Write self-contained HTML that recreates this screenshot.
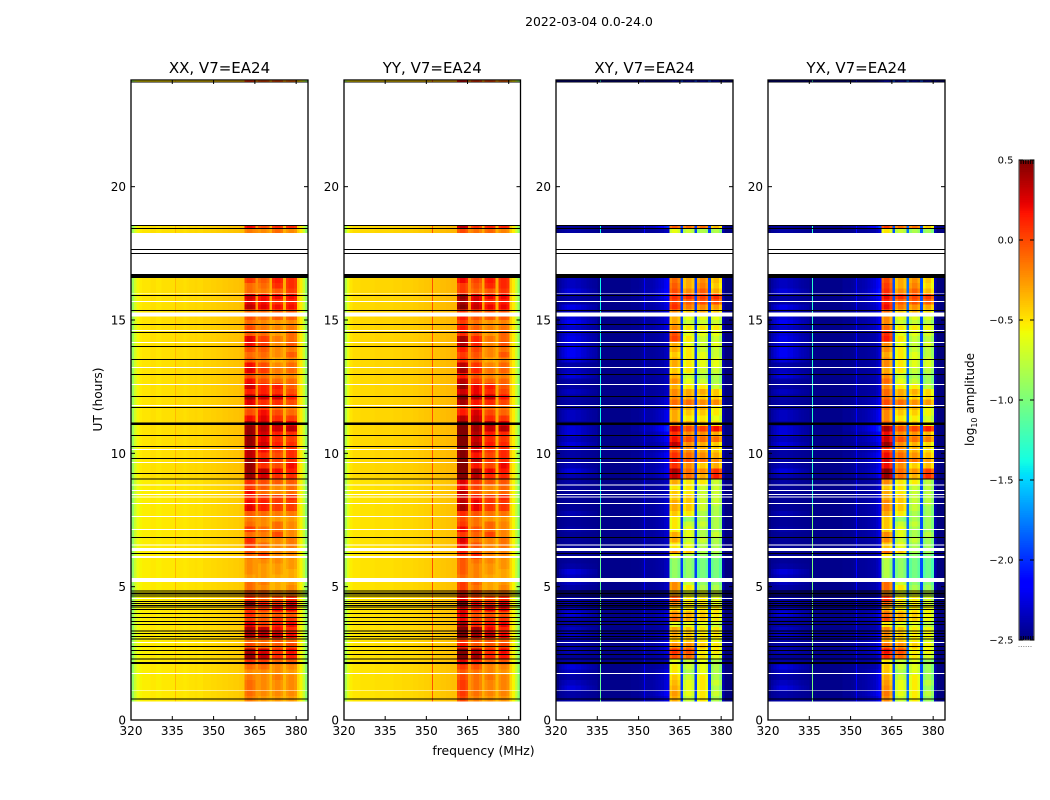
<!DOCTYPE html>
<html lang="en">
<head>
<meta charset="utf-8">
<title>2022-03-04 amplitude waterfall</title>
<style>
html,body{margin:0;padding:0;background:#fff;}
svg{display:block;font-family:"DejaVu Sans","Liberation Sans",sans-serif;fill:#000;}
</style>
</head>
<body>
<svg id="figure" xmlns="http://www.w3.org/2000/svg" width="1050" height="800" viewBox="0 0 1050 800">
<text x="589" y="26" font-size="12.4" text-anchor="middle">2022-03-04 0.0-24.0</text>
<text x="483.5" y="755" font-size="12.4" text-anchor="middle">frequency (MHz)</text>
<text transform="translate(102,399.5) rotate(-90)" font-size="12.2" text-anchor="middle">UT (hours)</text>
<text transform="translate(974,399.5) rotate(-90)" font-size="12" text-anchor="middle">log<tspan font-size="8" dy="3">10</tspan><tspan dy="-3"> amplitude</tspan></text>
<g id="panels"></g>
<g id="colorbar"></g>
</svg>
<script>
// ---------- categories and tick labels ----------
const panelTitles = ['XX, V7=EA24', 'YY, V7=EA24', 'XY, V7=EA24', 'YX, V7=EA24'];
const freqTicks = [320, 335, 350, 365, 380];
const hourTicks = [0, 5, 10, 15, 20];
const colorbarTicks = ['0.5', '0.0', '\u22120.5', '\u22121.0', '\u22121.5', '\u22122.0', '\u22122.5'];
const colorbarValues = [0.5, 0, -0.5, -1, -1.5, -2, -2.5];

// ---------- channel category: -1 none, 0 left patch, 1 shoulder, 2-5 sub-bands ----------
const channelGroup = [
 -1,0,0,0,0,0,0,0,0,0,0,0,0,0,0,-1,-1,-1,-1,-1,-1,-1,-1,-1,-1,-1,-1,
 1,1,1,1,1,1,1,1,1,1,1,1,1,1,
 2,2,2,2,-1,3,3,3,3,-1,4,4,4,4,-1,5,5,5,5,-1,-1,-1,-1];
const crossSpread = [
 0,.25,.45,.6,.7,.7,.7,.6,.6,.5,.45,.35,.3,.25,.2,0,0,0,0,0,0,0,0,0,0,0,0,
 .1,.1,.1,.15,.15,.2,.2,.25,.3,.4,.5,.6,.7,.8,
 1,1,1,1,0,1,1,1,1,0,1,1,1,1,0,1,1,1,1,0,0,0,0];

// ---------- per-channel log10 amplitude (one per MHz channel) ----------
const xxSpectrum = [
 -.88,-.68,-.56,-.52,-.5,-.5,-.5,-.48,-.48,-.5,
 -.5,-.48,-.48,-.48,-.48,-.48,-.47,-.47,-.47,-.48,
 -.47,-.46,-.46,-.45,-.46,-.46,-.44,-.44,-.44,-.43,
 -.43,-.42,-.42,-.41,-.41,-.4,-.4,-.39,-.39,-.38,-.37,
 -.05,0,0,-.05,-.22, -.05,0,0,-.05,-.32, -.05,0,0,-.05,-.32, -.05,0,0,-.05,
 -.42,-.52,-.7,-.92];
const yySpectrum = [
 -.8,-.6,-.5,-.47,-.47,-.47,-.46,-.46,-.46,-.46,
 -.46,-.45,-.45,-.45,-.45,-.45,-.45,-.45,-.44,-.44,
 -.44,-.43,-.43,-.43,-.43,-.42,-.42,-.41,-.41,-.4,
 -.4,-.39,-.39,-.38,-.38,-.37,-.37,-.36,-.36,-.35,-.35,
 -.03,.04,.04,-.03,-.22, -.05,.02,.02,-.05,-.3, -.05,0,0,-.05,-.32, -.05,0,0,-.05,
 -.42,-.52,-.7,-.92];
const xySpectrum = [
 -2.5,-2.47,-2.47,-2.47,-2.47,-2.47,-2.47,-2.47,-2.47,-2.47,
 -2.47,-2.47,-2.47,-2.47,-2.47,-2.47,-2.47,-2.47,-2.47,-2.47,
 -2.47,-2.47,-2.47,-2.47,-2.47,-2.47,-2.47,-2.47,-2.47,-2.47,
 -2.47,-2.45,-2.45,-2.45,-2.45,-2.45,-2.45,-2.45,-2.45,-2.42,-2.4,
 -.1,0,0,-.1,-1.95, -.1,0,0,-.1,-1.95, -.1,0,0,-.1,-1.95, -.1,0,0,-.15,
 -2.38,-2.5,-2.5,-2.5];
const yxSpectrum = [
 -2.5,-2.47,-2.47,-2.47,-2.47,-2.47,-2.47,-2.47,-2.47,-2.47,
 -2.47,-2.47,-2.47,-2.47,-2.47,-2.47,-2.47,-2.47,-2.47,-2.47,
 -2.47,-2.47,-2.47,-2.47,-2.47,-2.47,-2.47,-2.47,-2.47,-2.47,
 -2.47,-2.45,-2.45,-2.45,-2.45,-2.45,-2.45,-2.45,-2.45,-2.42,-2.35,
 -.05,.05,.05,-.1,-1.9, -.1,0,0,-.1,-1.8, -.1,0,0,-.1,-1.9, -.1,0,0,-.15,
 -2.38,-2.5,-2.5,-2.5];

// ---------- narrow spectral tones per panel: frequency (MHz) and log10 amplitude ----------
const xxTones = [[336, -.36]];
const yyTones = [[352.2, -.02]];
const xyTones = [[336.3, -1.4], [352, -2.15]];
const yxTones = [[336.3, -1.3], [352, -2.15]];
const crossToneLowHourLift = 0.3;

// ---------- sub-band level of each time row, top (16.6 h) to bottom (0.7 h) ----------
const parallelRows = [
 [.05,-.05,.15,.1],[-.1,-.1,.1,.1],[-.1,-.15,-.05,.05],[.3,.2,.2,.2],[.25,.2,.1,.15],[.35,.25,.2,.2],
 [-.1,-.1,-.05,-.05],[0,-.1,-.05,-.05],[-.1,-.2,-.25,-.2],[0,-.15,-.2,-.15],[-.05,-.1,-.25,-.1],[.25,.05,-.15,-.1],
 [.2,.05,-.2,-.05],[0,-.05,-.2,-.15],[-.1,-.1,-.2,-.05],[-.05,-.15,-.3,-.2],[.2,0,-.2,-.1],[.25,.05,-.15,-.1],
 [0,-.1,-.2,-.2],[.2,0,-.1,-.1],[.3,.15,.15,-.05],[.15,.15,.1,0],[.4,.3,.3,.15],[.25,.1,.1,0],
 [-.05,.05,-.1,-.15],[0,.2,0,-.1],[.2,.25,.1,.05],[.4,.35,.35,.25],[.45,.35,.3,.35],[.45,.3,.15,.1],
 [.45,.25,.1,.05],[.45,.3,.15,.1],[.35,.2,.05,.1],[.35,.1,0,.1],[.45,.3,.05,.1],[.45,.1,0,.2],
 [.45,.35,.2,.15],[.45,.3,.1,.1],[.1,0,-.05,-.05],[.05,-.05,-.2,-.1],[.2,-.1,-.2,-.1],
 [.15,.1,.05,.1],[.2,.15,.05,.05],[.25,.15,.05,.05],[-.05,-.1,-.15,-.15],[-.15,-.2,-.25,-.25],[-.1,-.2,-.1,-.2],
 [.05,-.1,-.1,-.2],[-.1,-.15,0,-.2],[.1,-.2,-.2,-.15],[.05,-.1,-.2,-.15],[0,-.1,-.2,-.2],[-.1,.05,-.2,-.2],
 [-.2,-.2,-.2,-.25],[-.2,-.25,-.25,-.25],[-.2,-.25,-.25,-.3],[-.25,-.25,-.3,-.3],[-.1,-.15,-.3,-.25],[-.1,-.2,-.3,-.2],
 [0,-.05,-.2,-.15],[.1,-.05,0,.1],[.45,.15,.1,.25],[.1,.05,.2,.2],[.1,-.1,-.05,-.05],[.05,-.05,.05,.05],
 [.25,.05,.15,.2],[.4,.35,.2,.1],[.4,.35,.35,.2],[-.1,-.1,-.05,-.1],[0,-.1,-.05,0],[.4,.3,.1,.2],
 [.45,.35,.1,.15],[.1,.05,-.1,-.05],[-.1,-.1,-.2,-.2],[-.2,-.2,-.2,-.25],[-.15,-.2,-.15,-.2],[-.1,-.2,-.2,-.2],
 [-.1,-.2,-.2,-.2],[-.1,-.2,-.2,-.2],[-.15,-.25,-.25,-.25]];
const crossRows = [
 [.2,.3,-.1,-.3,-.2,-.35],[.2,.3,-.05,-.3,-.15,-.4],[.3,.35,0,-.2,-.05,-.3],[.1,.3,.1,.1,.05,.1],[.1,.25,.05,-.05,0,0],
 [.35,.2,.1,-.15,-.2,-.25],[.2,.2,-.2,-.4,-.3,-.4],[.3,.2,-.3,-.6,-.6,-.6],[.4,.2,-.3,-.7,-.7,-.7],[.25,.2,-.2,-.5,-.5,-.5],
 [.3,.1,0,-.6,-.6,-.6],[.35,.1,.05,-.5,-.7,-.7],[.3,.1,-.3,-.6,-.7,-.6],[.4,.1,-.3,-.5,-.7,-.7],[.4,.1,-.4,-.5,-.6,-.7],
 [.3,.1,-.3,-.5,-.6,-.6],[.1,.1,-.3,-.5,-.6,-.6],[.2,.1,-.4,-.5,-.7,-.7],[.3,.1,-.3,-.7,-.8,-.8],[.1,.1,-.2,-.6,-.7,-.8],
 [.1,.1,-.3,-.5,-.5,-.7],[.2,.1,-.2,-.3,-.3,-.4],[.1,.15,-.2,-.3,-.4,-.4],[.1,.2,-.1,-.1,-.2,-.2],[.1,.2,-.2,-.3,-.3,-.5],
 [.2,.25,-.3,-.4,-.4,-.5],[.2,.25,-.3,-.5,-.5,-.6],[.1,.3,-.2,-.3,-.4,-.5],[.3,.5,.3,0,.05,.2],[.3,.3,.1,-.2,-.2,-.3],
 [.2,.3,.2,0,-.1,-.1],[.3,.2,.35,-.2,-.3,-.4],[.1,.2,0,-.2,-.3,-.4],[.1,.3,.1,-.1,-.2,-.3],[.1,.3,.2,0,-.1,-.2],[.15,.2,.1,-.2,-.4,-.3],
 [.3,.25,.4,-.1,-.2,.1],[.15,.2,.35,-.1,-.3,.15],[.1,.1,-.3,-.5,-.5,-.7],[.05,.1,-.5,-.5,-.7,-.7],[.05,.1,-.4,-.5,-.7,-.7],
 [.05,.15,-.4,-.4,-.7,-.7],[.05,.15,-.3,-.4,-.7,-.7],[.05,.15,-.3,-.4,-.7,-.8],[.15,.15,-.4,-.5,-.8,-.8],[.05,.15,-.5,-.9,-.8,-.8],
 [.05,.15,-.5,-.7,-.7,-.8],[.1,.15,-.5,-.6,-.8,-.8],[.05,.15,-.3,-.6,-.8,-.7],[.05,.1,-.3,-.7,-.7,-.8],[.05,.1,-.5,-.6,-.8,-.8],
 [.05,.1,-.2,-.4,-.8,-.8],[.05,.1,-.6,-.8,-.9,-.9],[.05,.1,-.9,-.9,-1,-1],[.1,.1,-.9,-.9,-1,-1],[.3,.1,-.9,-.9,-1,-1],
 [.2,.1,-.9,-.9,-1,-1],[.2,.1,-.2,-.7,-.9,-.9],[.1,.1,-.2,-.5,-.8,-.8],[.1,.1,-.3,-.6,-.6,-.7],[.1,.1,0,-.5,-.5,-.6],
 [.15,.1,-.2,-.5,-.5,-.6],[.2,.1,-.4,-.5,-.5,-.5],[.3,.2,-.2,-.3,-.4,-.5],[.1,.15,-.1,-.3,-.4,-.5],[.1,.1,-.6,-.6,-.6,-.7],
 [.2,.1,-.3,-.4,-.5,-.5],[.2,.2,-.3,-.4,-.5,-.5],[.1,.2,-.4,-.4,-.5,-.6],[.1,.2,-.2,-.2,-.4,-.5],[.15,.2,.1,0,-.5,-.5],
 [.05,.1,0,-.1,-.5,-.6],[.1,.1,-.6,-.7,-.6,-.8],[.3,.1,-.5,-.7,-.6,-.8],[.2,.2,-.5,-.8,-.6,-.8],[.1,.2,-.4,-.7,-.5,-.8],
 [.2,.2,-.35,-.6,-.5,-.7],[.3,.2,-.3,-.6,-.5,-.8],[.1,.3,-.25,-.6,-.5,-.7],[.1,.2,-.3,-.7,-.5,-.8]];
const yySubbandShift = [.12,.06,.02,.02];
const yxSubbandShift = [.06,0,-.02,-.05];

// ---------- short isolated scans above the main block: [bottom hour, top hour] ----------
const stripHours = [[18.26,18.42],[18.45,18.53],[23.9,24]];
const stripParallel = [[-.15,-.2,-.1,-.2],[.2,0,.1,.1],[.1,0,0,-.1]];
const stripCross = [[.1,.1,-.6,-.7,-.8,-.8],[.05,.5,-.05,-.1,-.1,-.35],[0,0,-2.3,-2.3,-2.3,-2.3]];

// ---------- flagged scans, hours ----------
const blackScans = [23.92,18.55,18.44,17.65,17.5,15.92,15.36,14.84,14.54,14.01,13.52,12.96,12.14,11.72,10.67,10.26,9.81,9.25,9.03,6.85,6.25,4.83,4.65,4.45,4.37,4.3,4.23,4.15,4,3.85,3.7,3.58,3.33,3.24,3.13,3.04,2.75,2.6,2.45,2.28,.78];
const blackSpans = [[16.58,16.72],[11.06,11.15],[4.7,4.78],[2.1,2.18]];
const whiteScans = [15.7,14.61,14.16,13.22,12.59,11.79,10.15,9.66,8.82,8.61,8.46,8.37,8.12,7.64,7.15,6.57,4.56,2.91,1.75];
const whiteSpans = [[15.14,15.28],[6.34,6.45],[6.07,6.15],[5.17,5.32]];

// ---------- data range ----------
const rowTopHour = 16.58, rowBottomHour = 0.7;
const freqMin = 320, freqMax = 384.3, hourMin = 0, hourMax = 24;
const valueMin = -2.5, valueMax = 0.5;
const channelCount = xxSpectrum.length;

// ---------- layout ----------
const panelBoxes = [[131,308],[344,520.5],[556,733],[768,945]];
const plotTop = 80, plotBottom = 720;
const svgNS = 'http://www.w3.org/2000/svg';

function yScale(h){ return plotBottom - (h - hourMin) / (hourMax - hourMin) * (plotBottom - plotTop); }
function xScaleFor(p){
  const box = panelBoxes[p];
  return function(f){ return box[0] + (f - freqMin) / (freqMax - freqMin) * (box[1] - box[0]); };
}
function interp(points, t){
  for (let i = 1; i < points.length; i++){
    if (t <= points[i][0]){
      const a = points[i-1], b = points[i];
      return a[1] + (b[1] - a[1]) * (t - a[0]) / (b[0] - a[0]);
    }
  }
  return points[points.length-1][1];
}
const jetR = [[0,0],[.35,0],[.66,1],[.89,1],[1,.5]];
const jetG = [[0,0],[.125,0],[.375,1],[.64,1],[.91,0],[1,0]];
const jetB = [[0,.5],[.11,1],[.34,1],[.65,0],[1,0]];
function colorScale(v){
  const t = Math.max(0, Math.min(1, (v - valueMin) / (valueMax - valueMin)));
  return 'rgb(' + Math.round(interp(jetR,t)*255) + ',' + Math.round(interp(jetG,t)*255) + ',' + Math.round(interp(jetB,t)*255) + ')';
}
function make(tag, parent){
  const el = document.createElementNS(svgNS, tag);
  parent.appendChild(el);
  return el;
}
function cellValue(p, c, row, hour){
  const g = channelGroup[c];
  if (p === 0 || p === 1){
    const spec = (p === 0 ? xxSpectrum : yySpectrum)[c];
    if (g >= 2) return spec + row[g-2] + (p === 1 ? yySubbandShift[g-2] : 0);
    return spec + (hour < 9 ? -.03 : 0);
  }
  const spec = (p === 2 ? xySpectrum : yxSpectrum)[c];
  if (g < 0) return spec;
  if (g >= 2) return spec + row[g] + (p === 3 ? yxSubbandShift[g-2] : 0);
  return spec + crossSpread[c] * row[g];
}
function drawRow(group, p, row, topHour, bottomHour){
  const xs = xScaleFor(p);
  const w = (freqMax - freqMin) / channelCount;
  const y0 = yScale(topHour), y1 = yScale(bottomHour);
  const mid = (topHour + bottomHour) / 2;
  for (let c = 0; c < channelCount; c++){
    const x0 = xs(freqMin + c * w), x1 = xs(freqMin + (c + 1) * w);
    const cell = make('rect', group);
    
    
    cell.setAttribute('x', x0.toFixed(2));
    cell.setAttribute('y', y0.toFixed(2));
    cell.setAttribute('width', (x1 - x0).toFixed(2));
    cell.setAttribute('height', (y1 - y0).toFixed(2));
    cell.setAttribute('fill', colorScale(cellValue(p, c, row, mid)));
  }
  const tones = [xxTones, yyTones, xyTones, yxTones][p];
  tones.forEach(function(tone){
    const lift = (p > 1 && tone[1] > -2 && mid < 8) ? crossToneLowHourLift : 0;
    const mark = make('rect', group);
    
    
    mark.setAttribute('x', Math.floor(xs(tone[0])));
    mark.setAttribute('y', y0.toFixed(2));
    mark.setAttribute('width', 1);
    mark.setAttribute('height', (y1 - y0).toFixed(2));
    mark.setAttribute('fill', colorScale(tone[1] + lift));
  });
}
function drawScanLine(group, p, topHour, height, color, name){
  const box = panelBoxes[p];
  const line = make('rect', group);
  
  
  line.setAttribute('x', box[0]);
  line.setAttribute('y', yScale(topHour).toFixed(2));
  line.setAttribute('width', box[1] - box[0]);
  line.setAttribute('height', height.toFixed(2));
  line.setAttribute('fill', color);
}
function drawTick(group, x1, y1, x2, y2, name){
  const t = make('line', group);
  
  
  t.setAttribute('x1', x1);
  t.setAttribute('y1', y1);
  t.setAttribute('x2', x2);
  t.setAttribute('y2', y2);
  t.setAttribute('stroke', '#000');
  t.setAttribute('stroke-width', '1');
}
function drawLabel(group, x, y, size, anchor, str, name){
  const t = make('text', group);
  
  
  t.setAttribute('x', x);
  t.setAttribute('y', y);
  t.setAttribute('font-size', size);
  t.setAttribute('text-anchor', anchor);
  t.textContent = str;
}

const panelsRoot = document.getElementById('panels');
panelTitles.forEach(function(title, p){
  const box = panelBoxes[p];
  const xs = xScaleFor(p);
  const panel = make('g', panelsRoot);
  
  

  const cells = make('g', panel);
  
  
  cells.setAttribute('shape-rendering', 'crispEdges');

  const rows = p < 2 ? parallelRows : crossRows;
  const strips = p < 2 ? stripParallel : stripCross;
  const step = (rowTopHour - rowBottomHour) / rows.length;
  rows.forEach(function(row, r){
    drawRow(cells, p, row, rowTopHour - r * step, rowTopHour - (r + 1) * step);
  });
  strips.forEach(function(row, s){
    drawRow(cells, p, row, stripHours[s][1], stripHours[s][0]);
  });

  const flags = make('g', panel);
  
  
  flags.setAttribute('shape-rendering', 'crispEdges');
  whiteScans.forEach(function(h){ drawScanLine(flags, p, h + .019, 1, '#fff', 'white-scan-line'); });
  whiteSpans.forEach(function(s){ drawScanLine(flags, p, s[1], yScale(s[0]) - yScale(s[1]), '#fff', 'white-scan-gap'); });
  blackScans.forEach(function(h){ drawScanLine(flags, p, h + .019, 1, '#000', 'black-scan-line'); });
  blackSpans.forEach(function(s){ drawScanLine(flags, p, s[1], yScale(s[0]) - yScale(s[1]), '#000', 'black-scan-band'); });

  const frame = make('rect', panel);
  
  
  frame.setAttribute('x', box[0]);
  frame.setAttribute('y', plotTop);
  frame.setAttribute('width', box[1] - box[0]);
  frame.setAttribute('height', plotBottom - plotTop);
  frame.setAttribute('fill', 'none');
  frame.setAttribute('stroke', '#000');
  frame.setAttribute('stroke-width', '1.3');

  freqTicks.forEach(function(f){
    const x = xs(f);
    drawTick(panel, x, plotBottom, x, plotBottom - 4, 'x-tick');
    drawTick(panel, x, plotTop, x, plotTop + 4, 'x-tick-top');
    drawLabel(panel, x, plotBottom + 15, 12, 'middle', String(f), 'x-tick-label');
  });
  hourTicks.forEach(function(h){
    const y = yScale(h);
    drawTick(panel, box[0], y, box[0] + 4, y, 'y-tick');
    drawTick(panel, box[1], y, box[1] - 4, y, 'y-tick-right');
    drawLabel(panel, box[0] - 5, y + 4.5, 12, 'end', String(h), 'y-tick-label');
  });
  drawLabel(panel, (box[0] + box[1]) / 2, 73, 15, 'middle', title, 'panel-title');
});

// ---------- colorbar ----------
const cbarRoot = document.getElementById('colorbar');
const cbarLeft = 1019, cbarRight = 1034, cbarTop = 160, cbarBottom = 640;
const cbarLevels = 256;
function cbarY(v){ return cbarBottom - (v - valueMin) / (valueMax - valueMin) * (cbarBottom - cbarTop); }
const cbarCells = make('g', cbarRoot);


cbarCells.setAttribute('shape-rendering', 'crispEdges');
for (let i = 0; i < cbarLevels; i++){
  const v0 = valueMin + (valueMax - valueMin) * i / cbarLevels;
  const v1 = valueMin + (valueMax - valueMin) * (i + 1) / cbarLevels;
  const swatch = make('rect', cbarCells);
  
  
  swatch.setAttribute('x', cbarLeft);
  swatch.setAttribute('y', cbarY(v1).toFixed(2));
  swatch.setAttribute('width', cbarRight - cbarLeft);
  swatch.setAttribute('height', (cbarY(v0) - cbarY(v1) + .5).toFixed(2));
  swatch.setAttribute('fill', colorScale((v0 + v1) / 2));
}
const cbarFrame = make('rect', cbarRoot);


cbarFrame.setAttribute('x', cbarLeft);
cbarFrame.setAttribute('y', cbarTop);
cbarFrame.setAttribute('width', cbarRight - cbarLeft);
cbarFrame.setAttribute('height', cbarBottom - cbarTop);
cbarFrame.setAttribute('fill', 'none');
cbarFrame.setAttribute('stroke', '#555');
cbarFrame.setAttribute('stroke-width', '1.2');
colorbarValues.forEach(function(v, i){
  const y = cbarY(v);
  drawTick(cbarRoot, cbarLeft, y, cbarLeft + 4, y, 'colorbar-tick');
  drawTick(cbarRoot, cbarRight, y, cbarRight - 4, y, 'colorbar-tick-right');
  drawLabel(cbarRoot, 1013.5, y + 3.5, 10, 'end', colorbarTicks[i], 'colorbar-tick-label');
});
for (let i = 0; i < 6; i++){
  const x = cbarLeft + 2 + i * 2.4;
  drawTick(cbarRoot, x, cbarTop, x, cbarTop + 4, 'colorbar-minor-tick');
  drawTick(cbarRoot, x, cbarBottom, x, cbarBottom - 4, 'colorbar-minor-tick');
  const dot = make('rect', cbarRoot);
  
  
  dot.setAttribute('x', x - 2.5);
  dot.setAttribute('y', 646);
  dot.setAttribute('width', 1);
  dot.setAttribute('height', 1);
  dot.setAttribute('fill', '#888');
}
</script>
</body>
</html>
